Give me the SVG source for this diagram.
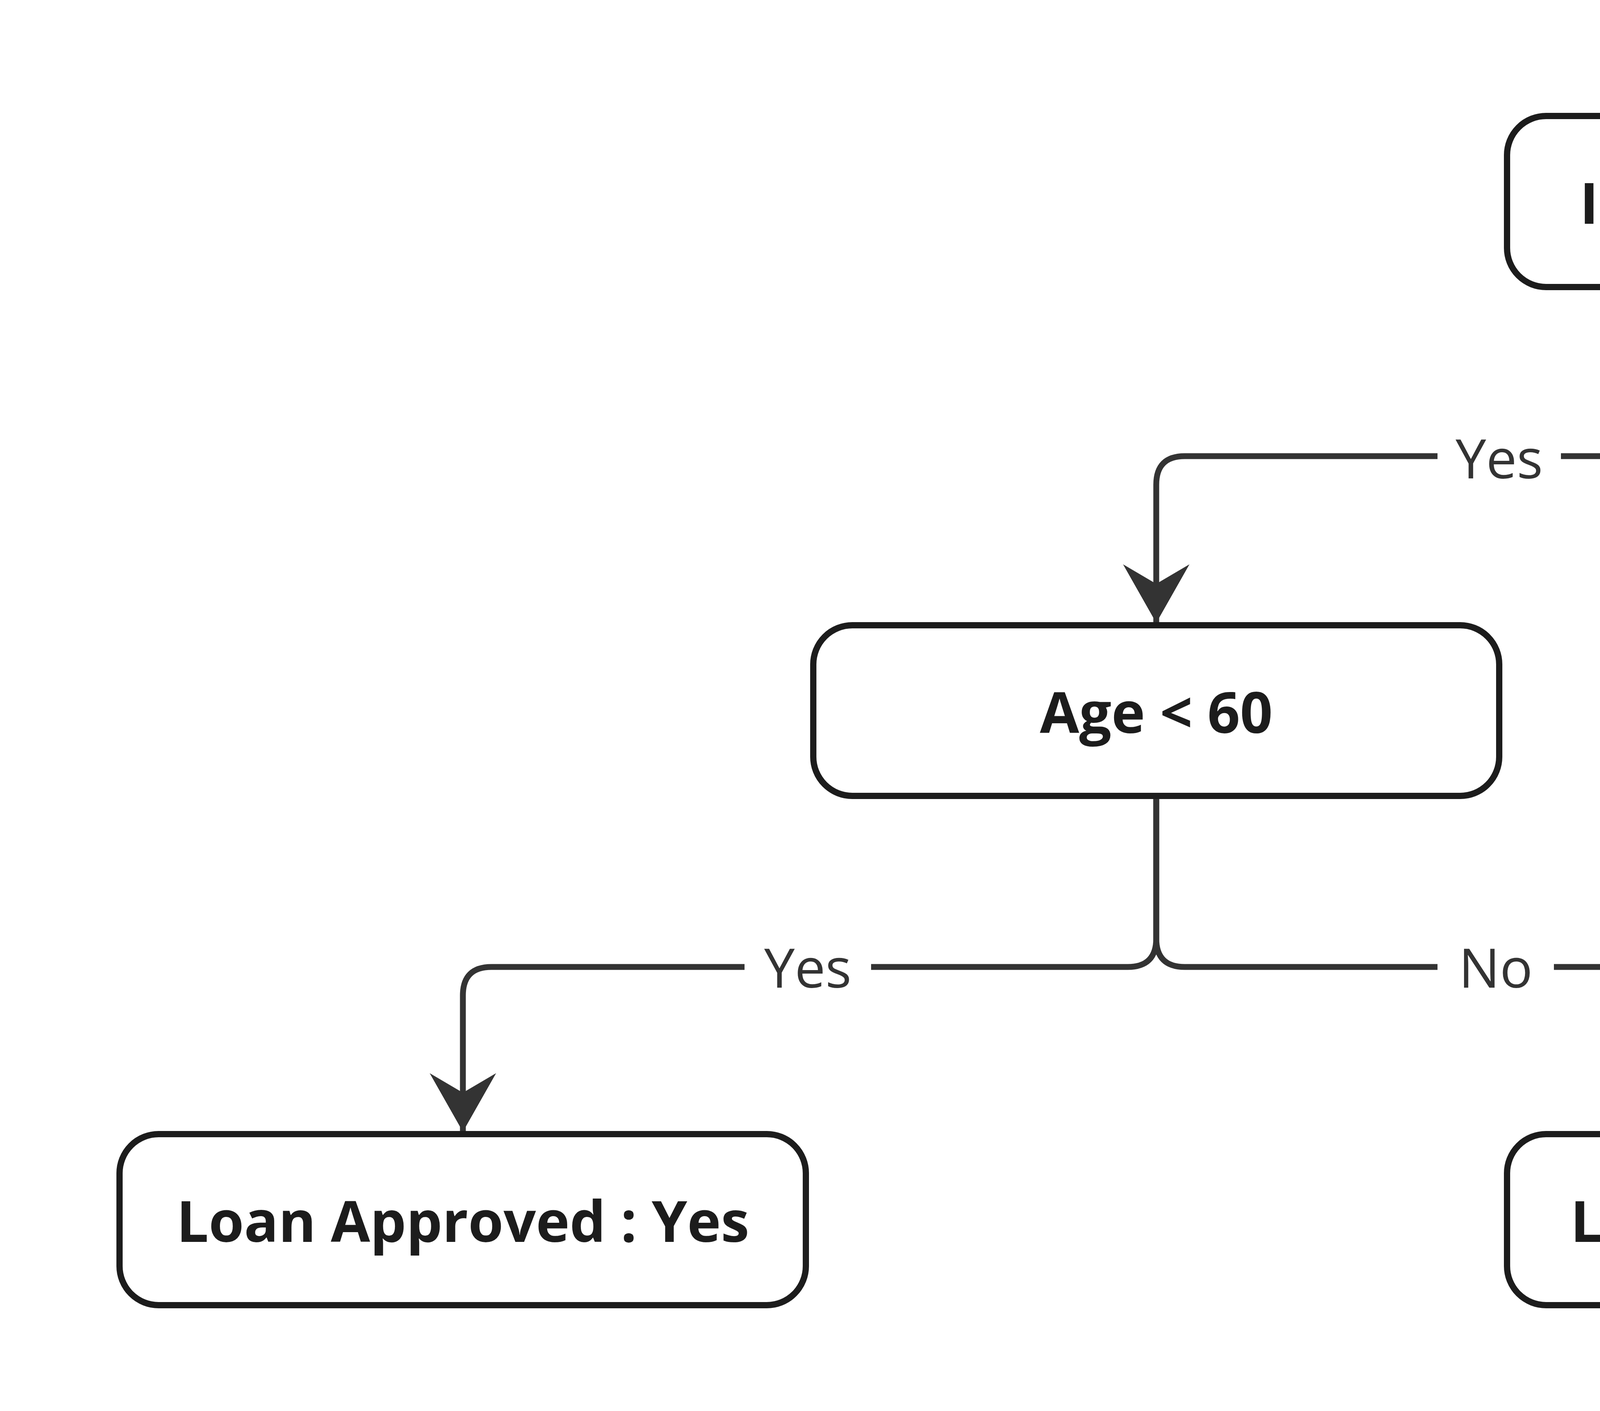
<svg xmlns="http://www.w3.org/2000/svg" width="7628" height="3613" viewBox="0 0 7628 3613">
<style>
.n{fill:#fff;stroke:#1c1c1c;stroke-width:16}
.t{font-family:"Open Sans","Noto Sans",sans-serif;font-weight:bold;font-size:146px;fill:#1c1c1c;text-anchor:middle;dominant-baseline:central}
.e{fill:none;stroke:#333;stroke-width:15}
.l{font-family:"Open Sans","Noto Sans",sans-serif;font-size:140px;fill:#333;text-anchor:middle;dominant-baseline:central}
.lb{fill:#fff}
</style>
<defs>
<marker id="b" markerUnits="userSpaceOnUse" markerWidth="170" markerHeight="170" viewBox="0 0 170 170" refX="150" refY="85" orient="auto">
<path d="M0 0 L150 85 L0 170 L50 85 Z" fill="#333"/>
</marker>
</defs>
<rect width="7628" height="3613" fill="#fff"/>
<g id="connectors">
<path class="e" marker-end="url(#b)" d="M4733 735 V1095 Q4733 1168 4660 1168 H3033 Q2960 1168 2960 1241 V1595"/>
<path class="e" marker-end="url(#b)" d="M4733 735 V1095 Q4733 1168 4806 1168 H6434 Q6507 1168 6507 1241 V1595"/>
<path class="e" marker-end="url(#b)" d="M2960 2038 V2403 Q2960 2476 2887 2476 H1258 Q1185 2476 1185 2549 V2898"/>
<path class="e" marker-end="url(#b)" d="M2960 2038 V2403 Q2960 2476 3033 2476 H4660 Q4733 2476 4733 2549 V2898"/>
<rect class="lb" x="3680" y="1090" width="316" height="160"/>
<text class="l" x="3838" y="1170">Yes</text>
<rect class="lb" x="5478" y="1090" width="302" height="160"/>
<text class="l" x="5629" y="1170">No</text>
<rect class="lb" x="1906" y="2396" width="324" height="160"/>
<text class="l" x="2068" y="2474">Yes</text>
<rect class="lb" x="3680" y="2396" width="298" height="160"/>
<text class="l" x="3829" y="2474">No</text>
</g>
<g id="n1"><rect class="n" x="3858" y="297" width="1751" height="438" rx="100"/><text class="t" x="4733" y="516">Income ($) &gt; 50,000</text></g>
<g id="n2"><rect class="n" x="2082" y="1601" width="1756" height="437" rx="100"/><text class="t" x="2960" y="1820">Age &lt; 60</text></g>
<g id="n3"><rect class="n" x="5629" y="1601" width="1756" height="437" rx="100"/><text class="t" x="6507" y="1820">Loan Approved : No</text></g>
<g id="n4"><rect class="n" x="306" y="2904" width="1757" height="438" rx="100"/><text class="t" x="1185" y="3123">Loan Approved : Yes</text></g>
<g id="n5"><rect class="n" x="3858" y="2904" width="1751" height="438" rx="100"/><text class="t" x="4733" y="3123">Loan Approved : No</text></g>
</svg>
